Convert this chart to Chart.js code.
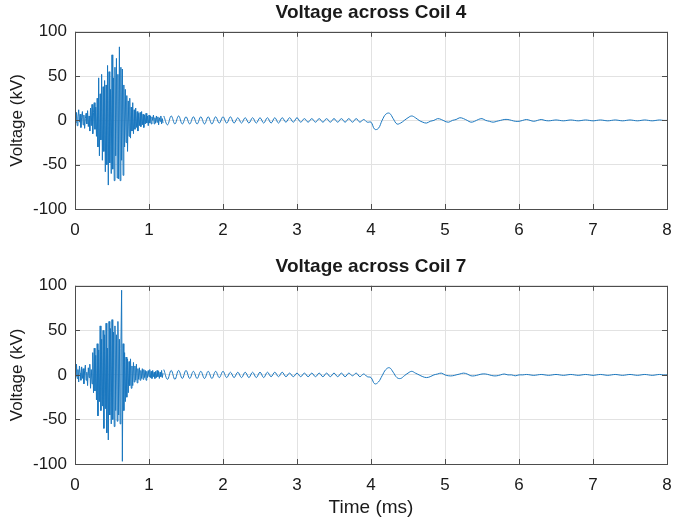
<!DOCTYPE html>
<html>
<head>
<meta charset="utf-8">
<script src="https://cdn.jsdelivr.net/npm/chart.js@4.4.1/dist/chart.umd.min.js"></script>
<style>
  html, body { margin: 0; padding: 0; background: #ffffff; }
  body { width: 673px; height: 519px; position: relative; overflow: hidden; }
  canvas { position: absolute; left: 0; }
  #coil4 { top: 0; }
  #coil7 { top: 254px; }
</style>
</head>
<body>
<canvas id="coil4" width="673" height="250"></canvas>
<canvas id="coil7" width="673" height="265"></canvas>
<script>
// Sampling of the recorded traces (ms)
const burstStart = 0;      // fast transient, fine sampling
const burstStep = 0.01;
const tailStart = 1.2;     // ringing and late response, coarser sampling
const tailStep = 0.05;

// Axis ticks
const timeTicks = [0, 1, 2, 3, 4, 5, 6, 7, 8];
const voltTicks = [-100, -50, 0, 50, 100];

// Coil 4 voltage (kV), 0.00 - 1.19 ms
const coil4Burst = [
  5, -3, 9, -6, 4, 12, -2, 7, -8, 3,
  10, -5, 6, -9, 2, 8, -4, 11, -7, 5,
  -12, 14, -6, 18, -15, 9, 20, -10, 15, -18,
  25, -30, 48, -40, 30, -22, 52, -45, 38, -35,
  45, -58, 40, -50, 62, -73, 55, -48, 35, -60,
  74, -55, 48, -68, 60, -40, 70, -65, 52, -66,
  83, -68, 60, -45, 58, -62, 40, -30, 35, -25,
  28, -35, 22, -18, 25, -20, 15, -12, 20, -15,
  12, -10, 14, -8, 10, -12, 8, -6, 9, -7,
  10, -5, 7, -8, 6, -4, 8, -3, 5, -6,
  6, -3, 5, -4, 4, 0, 6, -4, 3, -3,
  5, -2, 4, -5, 3, -1, 5, -4, 2, -3
];

// Coil 4 voltage (kV), 1.20 - 8.00 ms
const coil4Tail = [
  5, -5, 5, -4, 5, -4, 4, -4, 4, -4,
  4, -4, 4, -4, 4, -3, 4, -3, 4, -3,
  3, -3, 3, -3, 3, -3, 3, -3, 3, -3,
  3, -3, 3, -2, 3, -2, 3, -2, 2, -2,
  2, -2, 2, -2, 2, -2, 2, -2, 2, -2,
  2, -2, 2, -2, 1, -2,
  -2, -10, -9, 0,
  7, 8, 2, -4, -3, 0, 3, 5, 3, 0,
  -2, -3, -1, 0, 2, 1, -1, -2, 0, 1,
  3, 2, 0, -2, -1, 1, 2, 0, -1, -2,
  -1, 0, 1, 1, 0, -1, -1, 0, 1, 0,
  -1, 0, 1, 0, -0.5, 0, 0.5, 0, -0.5, 0,
  0.5, 0, -0.5, 0, 0.5, 0, -0.5, 0, 0.5, 0,
  -0.5, 0, 0.5, 0, -0.5, 0, 0.5, 0, -0.5, 0,
  0.5, 0, -0.5, 0, 0.5, 0, 0
];

// Coil 7 voltage (kV), 0.00 - 1.19 ms
const coil7Burst = [
  8, -2, 12, -4, 6, -8, 10, 2, -6, 9,
  -4, 7, -10, 5, 11, -6, 3, -12, 8, -3,
  12, -15, 6, -10, 25, -20, 30, -18, 22, -28,
  35, -46, 28, -30, 55, -40, 40, -35, 50, -60,
  45, -38, 58, -65, 30, -73, 60, -45, 52, -55,
  62, -50, 48, -58, 55, -40, 45, -52, 60, -45,
  40, -55, 30, 95, -97, 35, -40, 25, -30, 20,
  -25, 18, -20, 15, -12, 18, -15, 10, -12, 14,
  -8, 10, -6, 12, -9, 7, -5, 8, -6, 5,
  -4, 7, -5, 6, -3, 5, -6, 4, -3, 5,
  -2, 6, -3, 4, -4, 5, -2, 3, -4, 4,
  -3, 5, -2, 4, -4, 3, -2, 5, -3, 2
];

// Coil 7 voltage (kV), 1.20 - 8.00 ms
const coil7Tail = [
  6, -5, 5, -5, 5, -4, 5, -4, 4, -4,
  4, -4, 4, -4, 4, -3, 4, -3, 3, -3,
  3, -3, 3, -3, 3, -3, 3, -3, 3, -2,
  3, -2, 3, -2, 2, -2, 2, -2, 2, -2,
  2, -2, 2, -2, 2, -2, 2, -2, 2, -2,
  2, -1, 2, -2, 1, -2,
  -3, -10, -8, -1,
  6, 8, 3, -3, -4, -1, 2, 4, 2, 0,
  -2, -3, -2, 0, 1, 2, 0, -1, -1, 0,
  1, 2, 1, -1, -1, 0, 1, 1, 0, -1,
  -1, 0, 1, 0, 0, -1, 0, 0, 0.5, 0,
  -0.5, 0, 0.5, 0, -0.5, 0, 0.5, 0, -0.5, 0,
  0.5, 0, -0.5, 0, 0.5, 0, -0.5, 0, 0.5, 0,
  -0.5, 0, 0.5, 0, -0.5, 0, 0.5, 0, -0.5, 0,
  0.5, 0, -0.5, 0, 0.5, 0, 0
];

const LINE = '#1a77bf';
const TEXT = '#1a1a1a';
const BOX = '#4d4d4d';
const GRID = '#e2e2e2';
const FAMILY = "'Liberation Sans', Arial, Helvetica, sans-serif";

function toPoints(values, start, step) {
  return values.map((v, i) => ({ x: +(start + i * step).toFixed(4), y: v }));
}

// Axes box with inward tick marks on every side
const boxPlugin = {
  id: 'axesBox',
  afterDatasetsDraw(chart) {
    const { ctx, chartArea: a, scales } = chart;
    const len = 5;
    ctx.save();
    ctx.strokeStyle = BOX;
    ctx.lineWidth = 1;
    ctx.beginPath();
    scales.x.ticks.forEach(t => {
      const px = Math.round(scales.x.getPixelForValue(t.value)) + 0.5;
      ctx.moveTo(px, a.bottom); ctx.lineTo(px, a.bottom - len);
      ctx.moveTo(px, a.top); ctx.lineTo(px, a.top + len);
    });
    scales.y.ticks.forEach(t => {
      const py = Math.round(scales.y.getPixelForValue(t.value)) + 0.5;
      ctx.moveTo(a.left, py); ctx.lineTo(a.left + len, py);
      ctx.moveTo(a.right, py); ctx.lineTo(a.right - len, py);
    });
    ctx.stroke();
    ctx.strokeRect(Math.round(a.left) + 0.5, Math.round(a.top) + 0.5,
                   Math.round(a.right - a.left), Math.round(a.bottom - a.top));
    ctx.restore();
  }
};

function makeChart(id, titleText, burst, tail, showTimeTitle, xAxisHeight) {
  const lineStyle = { borderColor: LINE, borderWidth: 1, pointRadius: 0, fill: false };
  return new Chart(document.getElementById(id), {
    type: 'line',
    data: {
      datasets: [
        Object.assign({ data: toPoints(burst, burstStart, burstStep), tension: 0 }, lineStyle),
        Object.assign({ data: toPoints(tail, tailStart, tailStep), tension: 0.4 }, lineStyle)
      ]
    },
    options: {
      responsive: false,
      animation: false,
      devicePixelRatio: 1,
      layout: { padding: { left: 0, right: 6, top: 0, bottom: 0 } },
      plugins: {
        legend: { display: false },
        tooltip: { enabled: false },
        title: {
          display: true,
          text: titleText,
          fullSize: false,
          color: TEXT,
          font: { family: FAMILY, size: 19, weight: 'bold' },
          padding: { top: 1, bottom: 8 }
        }
      },
      scales: {
        x: {
          type: 'linear',
          min: 0,
          max: 8,
          afterBuildTicks: s => { s.ticks = timeTicks.map(v => ({ value: v })); },
          afterFit: s => { s.height = xAxisHeight; s.paddingLeft = 0; s.paddingRight = 0; },
          ticks: { color: TEXT, font: { family: FAMILY, size: 17 }, padding: 11, maxRotation: 0, autoSkip: false },
          grid: { color: GRID, drawTicks: false },
          border: { display: false },
          title: {
            display: showTimeTitle,
            text: 'Time (ms)',
            color: TEXT,
            font: { family: FAMILY, size: 19 },
            padding: { top: 0, bottom: 0 }
          }
        },
        y: {
          min: -100,
          max: 100,
          afterBuildTicks: s => { s.ticks = voltTicks.map(v => ({ value: v })); },
          afterFit: s => { s.width = 75; s.paddingTop = 0; s.paddingBottom = 0; },
          ticks: { color: TEXT, font: { family: FAMILY, size: 17 }, padding: 8 },
          grid: { color: GRID, drawTicks: false },
          border: { display: false },
          title: {
            display: true,
            text: 'Voltage (kV)',
            color: TEXT,
            font: { family: FAMILY, size: 17 },
            padding: { top: 7, bottom: 0 }
          }
        }
      }
    },
    plugins: [boxPlugin]
  });
}

makeChart('coil4', 'Voltage across Coil 4', coil4Burst, coil4Tail, false, 41);
makeChart('coil7', 'Voltage across Coil 7', coil7Burst, coil7Tail, true, 55);
</script>
</body>
</html>
